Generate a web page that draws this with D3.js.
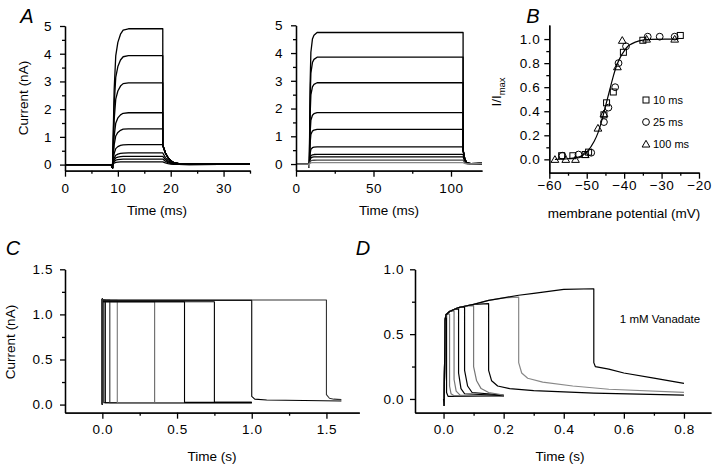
<!DOCTYPE html>
<html>
<head>
<meta charset="utf-8">
<script src="https://cdn.jsdelivr.net/npm/d3@7"></script>
<style>
  body { margin: 0; background: #fff; }
  text { font-family: "Liberation Sans", Arial, sans-serif; fill: #000; }
  .tick text { font-size: 13.5px; letter-spacing: 0.6px; }
  .domain, .tick line { stroke: #000; stroke-width: 1.3; }
  .trace { fill: none; stroke-linejoin: round; }
</style>
</head>
<body>
<div id="figure"></div>
<script>
// ---- panel A, 10 ms pulses (left) ----
const a1Amps = [4.9, 3.93, 2.95, 1.87, 1.29, 0.72, 0.42, 0.3, 0.2, 0.1];
const a1On = 9, a1Off = 18.5, a1End = 35;
const a1RiseT = [0, 0.3, 0.6, 1.0, 1.5, 2.0, 3.0];
const a1RiseF = [0, 0.55, 0.8, 0.9, 0.96, 0.99, 1.0];
const a1DecayT = [0, 0.5, 1, 1.5, 2, 3, 5];
const a1DecayF = [1, 0.6, 0.35, 0.2, 0.12, 0.05, 0.02];
const a1TailMax = 0.7;

// ---- panel A, 100 ms pulses (right) ----
const a2Amps = [4.74, 3.85, 2.93, 1.85, 1.25, 0.62, 0.35, 0.26, 0.14, 0.05];
const a2Colors = ["#000", "#000", "#000", "#000", "#000", "#000", "#000", "#000", "#444", "#888"];
const a2On = 8.6, a2Off = 107.8, a2End = 120;
const a2RiseT = [0, 0.5, 1, 2, 3, 5];
const a2RiseF = [0, 0.6, 0.85, 0.95, 0.98, 1.0];
const a2DecayT = [0, 1, 2, 3, 5];
const a2DecayF = [1, 0.4, 0.15, 0.06, 0.02];
const a2TailMax = 0.5;

// ---- panel B ----
const bSq10V = [-56.7, -53.7, -50.4, -49.5, -45.4, -44.7, -42.9, -40.2, -35, -25];
const bSq10I = [0.03, 0.03, 0.04, 0.06, 0.37, 0.47, 0.56, 0.89, 0.99, 1.03];
const bCi25V = [-56.5, -52.2, -48.8, -45.4, -44.2, -42.4, -41.5, -39.5, -33.7, -30.5, -26.5];
const bCi25I = [0.03, 0.04, 0.055, 0.31, 0.43, 0.60, 0.80, 0.94, 1.02, 1.02, 1.02];
const bTr100V = [-58.5, -55.6, -53, -50.4, -47, -45.4, -41.8, -40.5, -34, -26.5];
const bTr100I = [0.0, 0.0, 0.0, 0.04, 0.26, 0.38, 0.77, 0.99, 1.0, 1.0];
const bFitV = [-58.5, -55, -52, -50, -48, -47, -46, -45, -44, -43, -42, -41, -40, -39, -38, -36, -33, -29, -25.5];
const bFitI = [0.0, 0.005, 0.02, 0.06, 0.15, 0.22, 0.32, 0.44, 0.56, 0.68, 0.78, 0.85, 0.9, 0.94, 0.96, 0.985, 0.997, 1.0, 1.0];
const bLegend = ["10 ms", "25 ms", "100 ms"];

// ---- panel C ----
const cOff = [0.01, 0.02, 0.05, 0.1, 0.35, 0.55, 0.75, 1.0, 1.5];
const cPlateau = [1.165, 1.16, 1.16, 1.155, 1.14, 1.14, 1.14, 1.155, 1.16];
const cColors = ["#000", "#000", "#333", "#777", "#666", "#000", "#000", "#000", "#333"];
const cTails = [
  [[0.01, 0.02], [1.0, 0.02]],
  [[0.02, 0.02], [1.0, 0.02]],
  [[0.05, 0.02], [1.0, 0.02]],
  [[0.1, 0.02], [1.0, 0.02]],
  [[0.35, 0.02], [1.0, 0.02]],
  [[0.55, 0.025], [1.0, 0.025]],
  [[0.75, 0.025], [1.0, 0.025]],
  [[1.0, 0.09], [1.02, 0.06], [1.1, 0.05], [1.6, 0.04]],
  [[1.5, 0.11], [1.52, 0.07], [1.55, 0.06], [1.6, 0.055]]
];

// ---- panel D ----
const dEnvT = [0, 0.002, 0.005, 0.008, 0.02, 0.035, 0.05, 0.07, 0.1, 0.15, 0.2, 0.25, 0.3, 0.4, 0.5];
const dEnvI = [0.0, -0.05, 0.6, 0.65, 0.675, 0.69, 0.705, 0.715, 0.73, 0.76, 0.78, 0.80, 0.815, 0.845, 0.875];
const dOff = [0.01, 0.02, 0.035, 0.05, 0.07, 0.1, 0.15, 0.25, 0.5];
const dColors = ["#000", "#777", "#777", "#000", "#000", "#777", "#000", "#888", "#000"];
const dTails = [
  [[0.01, 0.05], [0.015, 0.02], [0.2, 0.02]],
  [[0.02, 0.1], [0.025, 0.04], [0.035, 0.025], [0.2, 0.02]],
  [[0.035, 0.15], [0.042, 0.06], [0.055, 0.03], [0.2, 0.02]],
  [[0.05, 0.2], [0.058, 0.08], [0.07, 0.04], [0.2, 0.025]],
  [[0.07, 0.22], [0.08, 0.1], [0.095, 0.05], [0.2, 0.03]],
  [[0.1, 0.25], [0.11, 0.14], [0.125, 0.08], [0.15, 0.05], [0.2, 0.03]],
  [[0.15, 0.22], [0.16, 0.14], [0.18, 0.1], [0.22, 0.08], [0.3, 0.065], [0.5, 0.045], [0.8, 0.03]],
  [[0.25, 0.28], [0.26, 0.2], [0.28, 0.16], [0.33, 0.13], [0.43, 0.1], [0.55, 0.075], [0.8, 0.05]],
  [[0.5, 0.28], [0.505, 0.25], [0.55, 0.23], [0.6, 0.2], [0.7, 0.16], [0.8, 0.12]]
];

const width = 720, height = 471;

const svg = d3.select("#figure")
  .append("svg")
  .attr("width", width)
  .attr("height", height)
  .attr("viewBox", `0 0 ${width} ${height}`);

svg.append("rect").attr("width", width).attr("height", height).attr("fill", "#fff");

const line = (x, y) => d3.line().x(d => x(d[0])).y(d => y(d[1]));

// axes in the Origin style: bottom + left, major and minor ticks outside
function drawAxes(o) {
  const g = svg.append("g");
  const y0 = o.y.range()[0], x0 = o.x.range()[0];
  g.append("g")
    .attr("transform", `translate(0,${y0})`)
    .call(d3.axisBottom(o.x).tickValues(o.xMinor).tickSize(3).tickSizeOuter(0).tickFormat(""));
  g.append("g")
    .attr("transform", `translate(0,${y0})`)
    .call(d3.axisBottom(o.x).tickValues(o.xMajor).tickSize(6).tickSizeOuter(0)
      .tickPadding(o.xPad).tickFormat(o.xFmt));
  g.append("g")
    .attr("transform", `translate(${x0},0)`)
    .call(d3.axisLeft(o.y).tickValues(o.yMinor).tickSize(3).tickSizeOuter(0).tickFormat(""));
  g.append("g")
    .attr("transform", `translate(${x0},0)`)
    .call(d3.axisLeft(o.y).tickValues(o.yMajor).tickSize(5).tickSizeOuter(0)
      .tickPadding(o.yPad).tickFormat(o.yFmt));
  return g;
}

function label(x, y, txt, size, opts) {
  opts = opts || {};
  const t = svg.append("text")
    .attr("x", x).attr("y", y)
    .attr("text-anchor", opts.anchor || "middle")
    .style("font-size", size + "px")
    .text(txt);
  if (opts.italic) t.style("font-style", "italic");
  if (opts.rotate) t.attr("transform", `rotate(-90,${x},${y})`);
  return t;
}

// ---- panel A left ----
const xA1 = d3.scaleLinear().domain([0, 35]).range([65, 250]);
const yA1 = d3.scaleLinear().domain([-0.22, 5]).range([170.7, 26]);

function pulseTrace(amp, on, off, end, riseT, riseF, decT, decF, tailMax) {
  const pts = [[0, 0], [on - 0.3, 0], [on, -0.12]];
  riseT.forEach((t, i) => pts.push([on + t, amp * riseF[i]]));
  pts.push([off, amp]);
  const tail = Math.min(amp, tailMax);
  decT.forEach((t, i) => pts.push([off + t, tail * decF[i]]));
  pts.push([end, 0.02]);
  return pts;
}

a1Amps.forEach(a => {
  svg.append("path")
    .attr("class", "trace")
    .attr("d", line(xA1, yA1)(pulseTrace(a, a1On, a1Off, a1End, a1RiseT, a1RiseF, a1DecayT, a1DecayF, a1TailMax)))
    .attr("stroke", "#000")
    .attr("stroke-width", 1.3);
});

drawAxes({ x: xA1, y: yA1, xMajor: [0, 10, 20, 30], xMinor: [5, 15, 25, 35],
  yMajor: [0, 1, 2, 3, 4, 5], yMinor: [0.5, 1.5, 2.5, 3.5, 4.5], xPad: 7, yPad: 8,
  xFmt: d3.format("d"), yFmt: d3.format("d") });

label(28, 98, "Current (nA)", 13.5, { rotate: true });
label(157, 215, "Time (ms)", 13.5);

// ---- panel A right ----
const xA2 = d3.scaleLinear().domain([0, 120]).range([296, 482]);
const yA2 = d3.scaleLinear().domain([-0.24, 5]).range([170.7, 25.3]);

a2Amps.forEach((a, i) => {
  svg.append("path")
    .attr("class", "trace")
    .attr("d", line(xA2, yA2)(pulseTrace(a, a2On, a2Off, a2End, a2RiseT, a2RiseF, a2DecayT, a2DecayF, a2TailMax)))
    .attr("stroke", a2Colors[i])
    .attr("stroke-width", 1.3);
});

drawAxes({ x: xA2, y: yA2, xMajor: [0, 50, 100], xMinor: [25, 75],
  yMajor: [0, 1, 2, 3, 4, 5], yMinor: [0.5, 1.5, 2.5, 3.5, 4.5], xPad: 7, yPad: 8,
  xFmt: d3.format("d"), yFmt: d3.format("d") });

label(389, 215, "Time (ms)", 13.5);

// ---- panel B ----
const xB = d3.scaleLinear().domain([-60, -20]).range([549.3, 699]);
const yB = d3.scaleLinear().domain([-0.111, 1.117]).range([172.7, 25]);

svg.append("path")
  .attr("class", "trace")
  .attr("d", line(xB, yB).curve(d3.curveMonotoneX)(bFitV.map((v, i) => [v, bFitI[i]])))
  .attr("stroke", "#000")
  .attr("stroke-width", 1.2);

const mk = { fill: "none", stroke: "#000", "stroke-width": 1 };
bSq10V.forEach((v, i) => {
  svg.append("rect")
    .attr("x", xB(v) - 3).attr("y", yB(bSq10I[i]) - 3)
    .attr("width", 6).attr("height", 6)
    .attr("fill", mk.fill).attr("stroke", mk.stroke).attr("stroke-width", mk["stroke-width"]);
});
bCi25V.forEach((v, i) => {
  svg.append("circle")
    .attr("cx", xB(v)).attr("cy", yB(bCi25I[i])).attr("r", 3.4)
    .attr("fill", mk.fill).attr("stroke", mk.stroke).attr("stroke-width", mk["stroke-width"]);
});
const tri = d3.symbol().type(d3.symbolTriangle).size(26);
bTr100V.forEach((v, i) => {
  svg.append("path")
    .attr("d", tri())
    .attr("transform", `translate(${xB(v)},${yB(bTr100I[i]) + 0.8})`)
    .attr("fill", mk.fill).attr("stroke", mk.stroke).attr("stroke-width", mk["stroke-width"]);
});

drawAxes({ x: xB, y: yB, xMajor: [-60, -50, -40, -30, -20], xMinor: [-55, -45, -35, -25],
  yMajor: [0, 0.2, 0.4, 0.6, 0.8, 1.0], yMinor: [0.1, 0.3, 0.5, 0.7, 0.9], xPad: 2, yPad: 4,
  xFmt: d3.format("d"), yFmt: d3.format(".1f") });

// legend
const legY = [100, 122, 144];
svg.append("rect").attr("x", 643).attr("y", legY[0] - 3).attr("width", 6).attr("height", 6)
  .attr("fill", "none").attr("stroke", "#000");
svg.append("circle").attr("cx", 646).attr("cy", legY[1]).attr("r", 3.4)
  .attr("fill", "none").attr("stroke", "#000");
svg.append("path").attr("d", tri()).attr("transform", `translate(646,${legY[2] + 0.8})`)
  .attr("fill", "none").attr("stroke", "#000");
bLegend.forEach((t, i) => label(653, legY[i] + 4, t, 11, { anchor: "start" }));

// y title I/I_max
const yt = svg.append("text")
  .attr("transform", "translate(501,92) rotate(-90)")
  .attr("text-anchor", "middle")
  .style("font-size", "13.5px");
yt.append("tspan").text("I/I");
yt.append("tspan").attr("dy", 4).style("font-size", "9.5px").text("max");

label(624, 218, "membrane potential (mV)", 13.5);

// ---- panel C ----
const xC = d3.scaleLinear().domain([-0.25, 1.72]).range([65, 359.3]);
const yC = d3.scaleLinear().domain([-0.09, 1.5]).range([412.7, 269.3]);

cOff.forEach((off, i) => {
  const pts = [[0, 0.0], [0, 1.17], [0.004, cPlateau[i]], [off, cPlateau[i]]].concat(cTails[i]);
  svg.append("path")
    .attr("class", "trace")
    .attr("d", line(xC, yC)(pts))
    .attr("stroke", cColors[i])
    .attr("stroke-width", 1.1);
});

drawAxes({ x: xC, y: yC, xMajor: [0, 0.5, 1.0, 1.5], xMinor: [0.25, 0.75, 1.25],
  yMajor: [0, 0.5, 1.0, 1.5], yMinor: [0.25, 0.75, 1.25], xPad: 6, yPad: 7,
  xFmt: d3.format(".1f"), yFmt: d3.format(".1f") });

label(15, 342, "Current (nA)", 13.5, { rotate: true });
label(212, 461, "Time (s)", 13.5);

// ---- panel D ----
const xD = d3.scaleLinear().domain([-0.095, 0.89]).range([415, 711]);
const yD = d3.scaleLinear().domain([-0.106, 1.0]).range([412.7, 269.3]);

dOff.forEach((off, i) => {
  const head = dEnvT.map((t, k) => [t, dEnvI[k]]).filter(d => d[0] < off);
  const pts = head.concat([[off, d3.max(head, d => d[1]) + 0.005]]).concat(dTails[i]);
  svg.append("path")
    .attr("class", "trace")
    .attr("d", line(xD, yD)(pts))
    .attr("stroke", dColors[i])
    .attr("stroke-width", 1.2);
});

drawAxes({ x: xD, y: yD, xMajor: [0, 0.2, 0.4, 0.6, 0.8], xMinor: [0.1, 0.3, 0.5, 0.7],
  yMajor: [0, 0.5, 1.0], yMinor: [0.25, 0.75], xPad: 6, yPad: 6,
  xFmt: d3.format(".1f"), yFmt: d3.format(".1f") });

label(660, 323, "1 mM Vanadate", 11.5);
label(560, 461, "Time (s)", 13.5);

// ---- panel letters ----
label(27, 23, "A", 20, { italic: true });
label(533, 23, "B", 20, { italic: true });
label(13, 255, "C", 20, { italic: true });
label(363, 255, "D", 20, { italic: true });
</script>
</body>
</html>
